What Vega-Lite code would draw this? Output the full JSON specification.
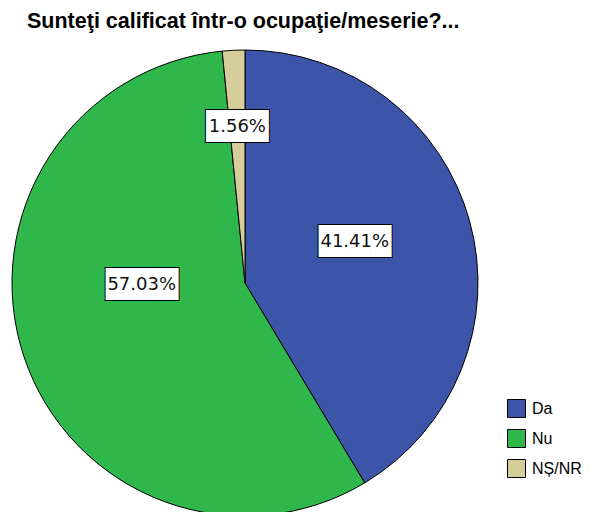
{
  "$schema": "https://vega.github.io/schema/vega-lite/v6.json",
  "width": 466,
  "height": 466,
  "autosize": {"type": "none"},
  "padding": {"left": 12, "top": 50, "right": 114, "bottom": 0},
  "background": "white",
  "title": {
    "text": "Sunteţi calificat într-o ocupaţie/meserie?...",
    "anchor": "start",
    "frame": "group",
    "dx": 15,
    "offset": -1,
    "baseline": "alphabetic",
    "font": "Liberation Sans",
    "fontSize": 21.5,
    "fontWeight": "bold",
    "color": "black"
  },
  "data": {
    "values": [
      {"cat": "Da", "k": 1, "pct": 0.4141},
      {"cat": "Nu", "k": 2, "pct": 0.5703},
      {"cat": "NȘ/NR", "k": 3, "pct": 0.0156}
    ]
  },
  "encoding": {
    "theta": {"field": "pct", "type": "quantitative", "stack": true},
    "order": {"field": "k", "type": "quantitative", "sort": "ascending"},
    "detail": {"field": "cat", "type": "nominal"}
  },
  "layer": [
    {
      "mark": {"type": "arc", "outerRadius": 233, "stroke": "black", "strokeWidth": 1},
      "encoding": {
        "color": {
          "field": "cat",
          "type": "nominal",
          "scale": {"domain": ["Da", "Nu", "NȘ/NR"], "range": ["#3C55A8", "#2FB74B", "#D5CE9B"]},
          "legend": {
            "title": null,
            "orient": "none",
            "legendX": 495,
            "legendY": 349,
            "symbolType": "square",
            "symbolSize": 324,
            "symbolStrokeColor": "black",
            "symbolStrokeWidth": 1,
            "symbolOpacity": 1,
            "labelFont": "Liberation Sans",
            "labelFontSize": 16,
            "labelColor": "black",
            "labelOffset": 6,
            "rowPadding": 7
          }
        }
      }
    },
    {
      "mark": {"type": "text", "radius": 117, "dx": -8, "dy": -10, "font": "DejaVu Sans", "fontSize": 27, "fill": "black", "stroke": "black", "strokeWidth": 2, "align": "center", "baseline": "middle"},
      "encoding": {"text": {"condition": {"test": "datum.cat === 'Da'", "value": "▐███"}, "value": ""}}
    },
    {
      "mark": {"type": "text", "radius": 117, "dx": -8, "dy": -10, "font": "DejaVu Sans", "fontSize": 27, "fill": "white", "align": "center", "baseline": "middle"},
      "encoding": {"text": {"condition": {"test": "datum.cat === 'Da'", "value": "▐███"}, "value": ""}}
    },
    {
      "mark": {"type": "text", "radius": 117, "dx": -3, "dy": -10, "font": "DejaVu Sans", "fontSize": 18, "fill": "#111111", "align": "center", "baseline": "middle"},
      "encoding": {"text": {"condition": {"test": "datum.cat === 'Da'", "field": "pct", "format": ".2%"}, "value": ""}}
    },
    {
      "mark": {"type": "text", "radius": 103.5, "dx": -10, "dy": -30, "font": "DejaVu Sans", "fontSize": 27, "fill": "black", "stroke": "black", "strokeWidth": 2, "align": "center", "baseline": "middle"},
      "encoding": {"text": {"condition": {"test": "datum.cat === 'Nu'", "value": "▐███"}, "value": ""}}
    },
    {
      "mark": {"type": "text", "radius": 103.5, "dx": -10, "dy": -30, "font": "DejaVu Sans", "fontSize": 27, "fill": "white", "align": "center", "baseline": "middle"},
      "encoding": {"text": {"condition": {"test": "datum.cat === 'Nu'", "value": "▐███"}, "value": ""}}
    },
    {
      "mark": {"type": "text", "radius": 103.5, "dx": -5, "dy": -30, "font": "DejaVu Sans", "fontSize": 18, "fill": "#111111", "align": "center", "baseline": "middle"},
      "encoding": {"text": {"condition": {"test": "datum.cat === 'Nu'", "field": "pct", "format": ".2%"}, "value": ""}}
    },
    {
      "mark": {"type": "text", "radius": 156, "font": "DejaVu Sans", "fontSize": 27, "fill": "black", "stroke": "black", "strokeWidth": 2, "align": "center", "baseline": "middle"},
      "encoding": {"text": {"condition": {"test": "datum.cat === 'NȘ/NR'", "value": "███"}, "value": ""}}
    },
    {
      "mark": {"type": "text", "radius": 156, "font": "DejaVu Sans", "fontSize": 27, "fill": "white", "align": "center", "baseline": "middle"},
      "encoding": {"text": {"condition": {"test": "datum.cat === 'NȘ/NR'", "value": "███"}, "value": ""}}
    },
    {
      "mark": {"type": "text", "radius": 156, "font": "DejaVu Sans", "fontSize": 18, "fill": "#111111", "align": "center", "baseline": "middle"},
      "encoding": {"text": {"condition": {"test": "datum.cat === 'NȘ/NR'", "field": "pct", "format": ".2%"}, "value": ""}}
    }
  ]
}
